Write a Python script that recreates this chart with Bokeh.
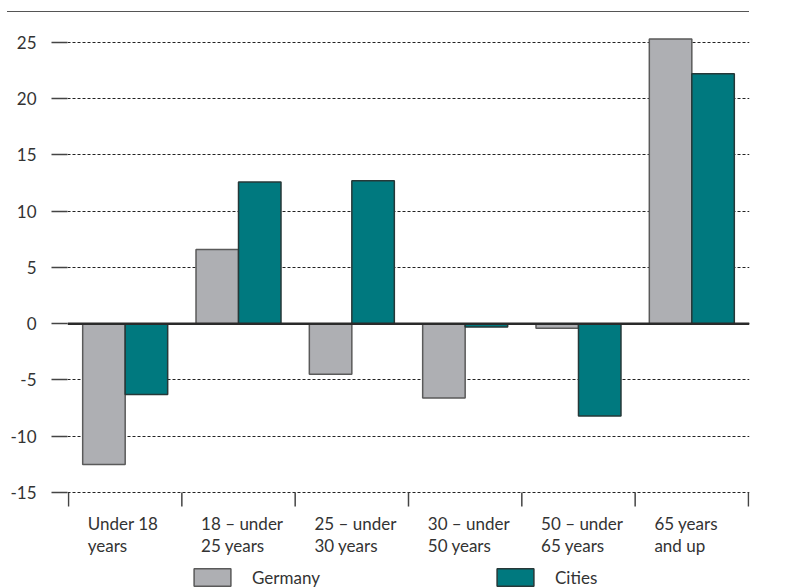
import numpy as np
from bokeh.plotting import figure
from bokeh.models import FixedTicker, Range1d, Span, Legend, LegendItem, Div
from bokeh.layouts import column
from bokeh.core.properties import value
from bokeh.embed import file_html
from bokeh.resources import INLINE

categories = ["Under 18\nyears", "18 \u2013 under\n25 years", "25 \u2013 under\n30 years",
              "30 \u2013 under\n50 years", "50 \u2013 under\n65 years", "65 years\nand up"]
germany = [-12.5, 6.6, -4.5, -6.6, -0.4, 25.3]
cities = [-6.3, 12.6, 12.7, -0.3, -8.2, 22.2]
y_ticks = [-15, -10, -5, 0, 5, 10, 15, 20, 25]
series_names = ["Germany", "Cities"]

FONT = "Lato"
TXT = "#333333"
GREY = "#aeafb3"
TEAL = "#00797f"
TICK = "#444444"

n = len(categories)
idx = np.arange(n)
bar_w = 0.375

W = 774
TOP_H = 20
MAIN_H = 568
PX = 11.255            # pixels per percentage point
Y_TOP = 26.94
Y_BOT = Y_TOP - MAIN_H / PX

# thin rule at the very top
top = Div(text='<div style="position:absolute;left:7px;top:11px;width:742px;'
               'height:0;border-top:1.5px solid #555555;"></div>',
          width=W, height=TOP_H, styles={"position": "relative", "margin": "0", "padding": "0"})

p = figure(width=W, height=MAIN_H, x_range=Range1d(-0.009, n + 0.009),
           y_range=Range1d(Y_BOT, Y_TOP), x_axis_location=None,
           output_backend="svg", toolbar_location=None,
           min_border_left=67, min_border_right=25, min_border_top=0, min_border_bottom=0)
p.outline_line_color = None

# grid
p.ygrid.ticker = FixedTicker(ticks=y_ticks)
p.ygrid.grid_line_color = "#222222"
p.ygrid.grid_line_dash = "3 2"
p.ygrid.grid_line_width = 1
p.xgrid.visible = False

rg = p.vbar(x=idx + 0.5 - bar_w / 2, top=germany, width=bar_w, fill_color=GREY,
            line_color="#5a5a5a", line_width=1.5)
rc = p.vbar(x=idx + 0.5 + bar_w / 2, top=cities, width=bar_w, fill_color=TEAL,
            line_color="#263838", line_width=1.5)

p.add_layout(Span(location=0, dimension="width", line_color="#2a2a2a", line_width=2.5))

# y axis
p.yaxis.ticker = FixedTicker(ticks=y_ticks)
p.yaxis.major_label_overrides = {t: str(t) for t in y_ticks}
p.yaxis.axis_line_color = None
p.yaxis.major_tick_out = 16
p.yaxis.major_tick_in = 0
p.yaxis.major_tick_line_color = TICK
p.yaxis.major_tick_line_width = 1.5
p.yaxis.minor_tick_line_color = None
p.yaxis.major_label_standoff = 15
p.yaxis.major_label_text_font = FONT
p.yaxis.major_label_text_font_size = "17px"
p.yaxis.major_label_text_color = TXT

# category axis along y = -15: boundary ticks and left-aligned two-line labels
y_base = min(y_ticks)
bounds = [float(i) for i in range(n + 1)]
p.segment(x0=bounds, y0=[y_base] * len(bounds), x1=bounds,
          y1=[y_base - 14 / PX] * len(bounds), line_color=TICK, line_width=1.5)

lines = [c.split("\n") for c in categories]
label_x = [float(i) + 0.17 for i in idx]
for k, off in enumerate([31, 53]):
    p.text(x=label_x, y=[y_base - off / PX] * n, text=[l[k] for l in lines],
           text_font=value(FONT), text_font_size="17px", text_color=TXT,
           text_align="left", text_baseline="alphabetic")

for name, r, xoff in [(series_names[0], rg, 122), (series_names[1], rc, 425)]:
    lg = Legend(items=[LegendItem(label=name, renderers=[r])], location=(xoff, 0),
                orientation="horizontal", glyph_width=46, glyph_height=22, label_height=22,
                label_standoff=17, padding=0, margin=0, border_line_color=None,
                background_fill_alpha=0, label_text_font=FONT, label_text_font_size="17px",
                label_text_color=TXT)
    p.add_layout(lg, "center")

layout = column(top, p)
open("out.html", "w").write(file_html(layout, INLINE))
